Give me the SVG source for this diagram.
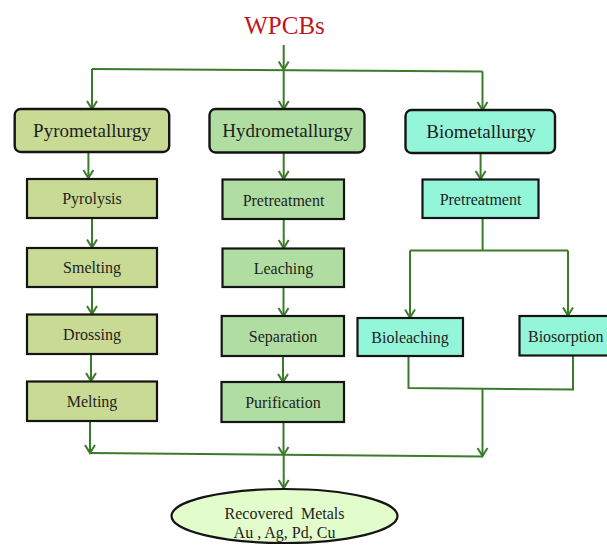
<svg xmlns="http://www.w3.org/2000/svg" width="607" height="546" viewBox="0 0 607 546">
  <style>
    text { font-family: "Liberation Serif", "Times New Roman", serif; fill: #1e1e1e; text-anchor: middle; }
    .title { font-size: 25px; fill: #c0161d; }
    .head { font-size: 19px; }
    .step { font-size: 16px; }
    .hbox { stroke: #141414; stroke-width: 2.4; }
    .sbox { stroke: #141414; stroke-width: 2.2; }
    .pyro { fill: #c9da94; }
    .hydro { fill: #b0dea2; }
    .bio { fill: #94f6d9; }
    .conn { stroke: #3d7b2c; stroke-width: 2; fill: none; }
    .arr { marker-end: url(#ah); }
  </style>
  <defs>
    <marker id="ah" markerUnits="userSpaceOnUse" viewBox="-10 -7 12 14" refX="0" refY="0" markerWidth="12" markerHeight="14" orient="auto">
      <path d="M-8,-5 L0,0 L-8,5" fill="none" stroke="#3d7b2c" stroke-width="2"/>
    </marker>
  </defs>

  <rect width="607" height="546" fill="#ffffff"/>

  <!-- source label -->
  <g id="wpcbs">
    <text class="title" x="284.5" y="34">WPCBs</text>
  </g>

  <!-- connectors -->
  <g id="connectors">
    <path class="conn arr" d="M283.7,45 V69.5"/>
    <path class="conn" d="M92,69 L482.5,71.5"/>
    <path class="conn arr" d="M92,69 V109"/>
    <path class="conn arr" d="M283.7,70 V109"/>
    <path class="conn arr" d="M482.5,71.5 V110"/>

    <path class="conn arr" d="M88.4,152 V178"/>
    <path class="conn arr" d="M92,218 V247.5"/>
    <path class="conn arr" d="M92,287 V314"/>
    <path class="conn arr" d="M91,354 V381"/>

    <path class="conn arr" d="M283.7,152.5 V179"/>
    <path class="conn arr" d="M283.7,219 V248"/>
    <path class="conn arr" d="M283.5,287 V316"/>
    <path class="conn arr" d="M283,356 V382"/>

    <path class="conn arr" d="M480.6,153 V179"/>
    <path class="conn" d="M482.6,218 V250.5"/>
    <path class="conn" d="M410,250.5 H568"/>
    <path class="conn arr" d="M410,250.5 V317.5"/>
    <path class="conn arr" d="M568,250.5 V315.5"/>

    <path class="conn" d="M408.5,356 V388 L573,389.5 V355.5"/>
    <path class="conn arr" d="M482.5,389 V456"/>

    <path class="conn arr" d="M90,421 V453"/>
    <path class="conn arr" d="M283.5,422 V455"/>
    <path class="conn" d="M90,453 L482.5,456.5"/>
    <path class="conn arr" d="M283.7,455 V488"/>
  </g>

  <!-- method headers -->
  <g id="pyrometallurgy">
    <rect class="hbox pyro" x="14.7" y="109" width="154.5" height="43" rx="6"/>
    <text class="head" x="92" y="137">Pyrometallurgy</text>
  </g>
  <g id="hydrometallurgy">
    <rect class="hbox hydro" x="209.5" y="109" width="155" height="43.5" rx="6"/>
    <text class="head" x="287.5" y="137">Hydrometallurgy</text>
  </g>
  <g id="biometallurgy">
    <rect class="hbox bio" x="405.5" y="110" width="149.5" height="43" rx="6"/>
    <text class="head" x="481" y="138">Biometallurgy</text>
  </g>

  <!-- pyrometallurgy steps -->
  <g id="pyrolysis">
    <rect class="sbox pyro" x="27" y="179" width="130" height="39"/>
    <text class="step" x="92" y="204">Pyrolysis</text>
  </g>
  <g id="smelting">
    <rect class="sbox pyro" x="27" y="248" width="130" height="39"/>
    <text class="step" x="92" y="273">Smelting</text>
  </g>
  <g id="drossing">
    <rect class="sbox pyro" x="27" y="314.5" width="130" height="39.5"/>
    <text class="step" x="92" y="340">Drossing</text>
  </g>
  <g id="melting">
    <rect class="sbox pyro" x="27" y="381.5" width="130" height="39.5"/>
    <text class="step" x="92" y="407">Melting</text>
  </g>

  <!-- hydrometallurgy steps -->
  <g id="hydro-pretreatment">
    <rect class="sbox hydro" x="222.5" y="179.5" width="121.5" height="39.5"/>
    <text class="step" x="283.5" y="205.5">Pretreatment</text>
  </g>
  <g id="leaching">
    <rect class="sbox hydro" x="222.5" y="248.5" width="121.5" height="38.5"/>
    <text class="step" x="283.5" y="274">Leaching</text>
  </g>
  <g id="separation">
    <rect class="sbox hydro" x="221.7" y="316" width="122.3" height="40"/>
    <text class="step" x="283" y="342">Separation</text>
  </g>
  <g id="purification">
    <rect class="sbox hydro" x="221.5" y="382" width="122.5" height="40"/>
    <text class="step" x="283" y="408">Purification</text>
  </g>

  <!-- biometallurgy steps -->
  <g id="bio-pretreatment">
    <rect class="sbox bio" x="422.5" y="179.5" width="116" height="38.5"/>
    <text class="step" x="480.5" y="205">Pretreatment</text>
  </g>
  <g id="bioleaching">
    <rect class="sbox bio" x="357.5" y="318" width="105.5" height="38"/>
    <text class="step" x="410" y="343">Bioleaching</text>
  </g>
  <g id="biosorption">
    <rect class="sbox bio" x="519.5" y="316" width="95" height="39.5"/>
    <text class="step" x="528" y="342" style="text-anchor:start">Biosorption</text>
  </g>

  <!-- result -->
  <g id="recovered-metals">
    <ellipse cx="284.5" cy="516" rx="113" ry="27" fill="#e2fccb" stroke="#141414" stroke-width="2.2"/>
    <text class="step" x="284.5" y="519" xml:space="preserve">Recovered  Metals</text>
    <text class="step" x="284.5" y="538">Au , Ag, Pd, Cu</text>
  </g>
</svg>
